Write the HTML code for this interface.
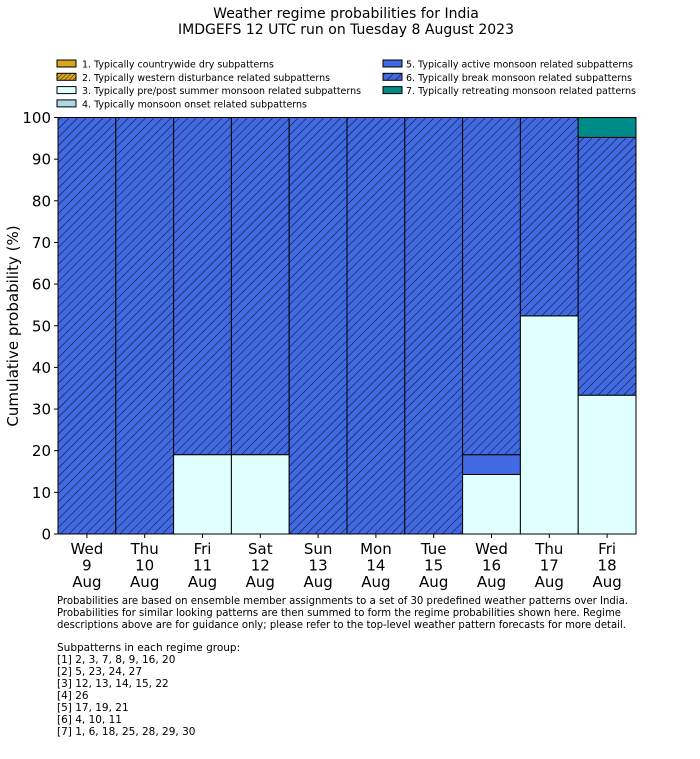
<!DOCTYPE html>
<html><head><meta charset="utf-8"><style>
body{margin:0;background:#fff;width:700px;height:754px;overflow:hidden}
svg text{font-family:"DejaVu Sans","Liberation Sans",sans-serif;fill:#000}
</style></head><body>
<svg id="chart" width="700" height="754" viewBox="0 0 700 754">
<defs>
<pattern id="hatch" patternUnits="userSpaceOnUse" width="6" height="6" patternTransform="rotate(45)">
<rect width="6" height="6" fill="#4169e1"/>
<line x1="0" y1="0" x2="0" y2="6" stroke="#000" stroke-width="0.9"/>
</pattern>
<pattern id="hatchO" patternUnits="userSpaceOnUse" width="3" height="3" patternTransform="rotate(45)">
<rect width="3" height="3" fill="#daa520"/>
<line x1="0" y1="0" x2="0" y2="3" stroke="#000" stroke-width="0.8"/>
</pattern>
</defs>
<text x="346" y="18" font-size="14" text-anchor="middle">Weather regime probabilities for India</text>
<text x="346" y="34" font-size="14" text-anchor="middle">IMDGEFS 12 UTC run on Tuesday 8 August 2023</text>
<g id="legend" font-size="10"></g>
<g id="bars"></g>
<g id="axes"></g>
<text transform="translate(18,326) rotate(-90)" font-size="15" text-anchor="middle">Cumulative probability (%)</text>
<g font-size="10.5">
<text x="57" y="604" textLength="571" lengthAdjust="spacingAndGlyphs">Probabilities are based on ensemble member assignments to a set of 30 predefined weather patterns over India.</text>
<text x="57" y="616" textLength="564" lengthAdjust="spacingAndGlyphs">Probabilities for similar looking patterns are then summed to form the regime probabilities shown here. Regime</text>
<text x="57" y="628" textLength="569" lengthAdjust="spacingAndGlyphs">descriptions above are for guidance only; please refer to the top-level weather pattern forecasts for more detail.</text>
<text x="57" y="651">Subpatterns in each regime group:</text>
<text x="57" y="663">[1] 2, 3, 7, 8, 9, 16, 20</text>
<text x="57" y="675">[2] 5, 23, 24, 27</text>
<text x="57" y="687">[3] 12, 13, 14, 15, 22</text>
<text x="57" y="699">[4] 26</text>
<text x="57" y="711">[5] 17, 19, 21</text>
<text x="57" y="723">[6] 4, 10, 11</text>
<text x="57" y="735">[7] 1, 6, 18, 25, 28, 29, 30</text>
</g>
</svg>
<script>
const days = ["Wed","Thu","Fri","Sat","Sun","Mon","Tue","Wed","Thu","Fri"];
const dates = ["9","10","11","12","13","14","15","16","17","18"];
const months = ["Aug","Aug","Aug","Aug","Aug","Aug","Aug","Aug","Aug","Aug"];
const p1 = [0,0,0,0,0,0,0,0,0,0];
const p2 = [0,0,0,0,0,0,0,0,0,0];
const p3 = [0,0,19.05,19.05,0,0,0,14.29,52.38,33.33];
const p4 = [0,0,0,0,0,0,0,0,0,0];
const p5 = [0,0,0,0,0,0,0,4.76,0,0];
const p6 = [100,100,80.95,80.95,100,100,100,80.95,47.62,61.9];
const p7 = [0,0,0,0,0,0,0,0,0,4.76];
const yTicks = [0,10,20,30,40,50,60,70,80,90,100];
const legendLabels = ["1. Typically countrywide dry subpatterns","2. Typically western disturbance related subpatterns","3. Typically pre/post summer monsoon related subpatterns","4. Typically monsoon onset related subpatterns","5. Typically active monsoon related subpatterns","6. Typically break monsoon related subpatterns","7. Typically retreating monsoon related patterns"];
const legendWidths = [192,248,279,225,227,226,230];

const NS="http://www.w3.org/2000/svg";
const X0=58,X1=636,Y0=534,Y1=117.5;
const n=days.length, bw=(X1-X0)/n;
const xS=i=>X0+i*bw;
const yS=v=>Y0-(v/100)*(Y0-Y1);
const fills=["#daa520","url(#hatchO)","#e0ffff","#add8e6","#4169e1","url(#hatch)","#008b8b"];
const series=[p1,p2,p3,p4,p5,p6,p7];
function mk(tag,attrs,parent){const e=document.createElementNS(NS,tag);for(const k in attrs)e.setAttribute(k,attrs[k]);parent.appendChild(e);return e;}
const gb=document.getElementById('bars');
for(let i=0;i<n;i++){
  let cum=0;
  for(let s=0;s<series.length;s++){
    const v=series[s][i]; if(v<=0) continue;
    const r=mk('rect',{x:xS(i),y:yS(cum+v),width:bw,height:yS(cum)-yS(cum+v),fill:fills[s],stroke:'#000','stroke-width':1},gb);
    
    
    cum+=v;
  }
}
const ga=document.getElementById('axes');
mk('rect',{x:X0,y:Y1,width:X1-X0,height:Y0-Y1,fill:'none',stroke:'#000','stroke-width':1},ga);
yTicks.forEach(t=>{
  mk('line',{x1:X0-4,x2:X0,y1:yS(t),y2:yS(t),stroke:'#000'},ga);
  const tx=mk('text',{x:X0-7,y:yS(t)+5.5,'font-size':15,'text-anchor':'end'},ga);
  tx.textContent=t;
  
  
});
for(let i=0;i<n;i++){
  const cx=xS(i)+bw/2;
  mk('line',{x1:cx,x2:cx,y1:Y0,y2:Y0+4,stroke:'#000'},ga);
  [days[i],dates[i],months[i]].forEach((s,k)=>{
    const tx=mk('text',{x:cx,y:Y0+20+k*16.5,'font-size':15,'text-anchor':'middle'},ga);
    tx.textContent=s;
    
    
  });
}
const gl=document.getElementById('legend');
legendLabels.forEach((l,i)=>{
  const col=i<4?0:1, row=i<4?i:i-4;
  const x=col?383:57, y=60+row*13.3;
  const r=mk('rect',{x:x,y:y,width:19,height:7,fill:fills[i],stroke:'#000','stroke-width':1},gl);
  
  
  const t=mk('text',{x:col?406:82,y:y+7.5,textLength:legendWidths[i],lengthAdjust:'spacingAndGlyphs'},gl);
  t.textContent=l;
  
  
});
</script>
</body></html>
